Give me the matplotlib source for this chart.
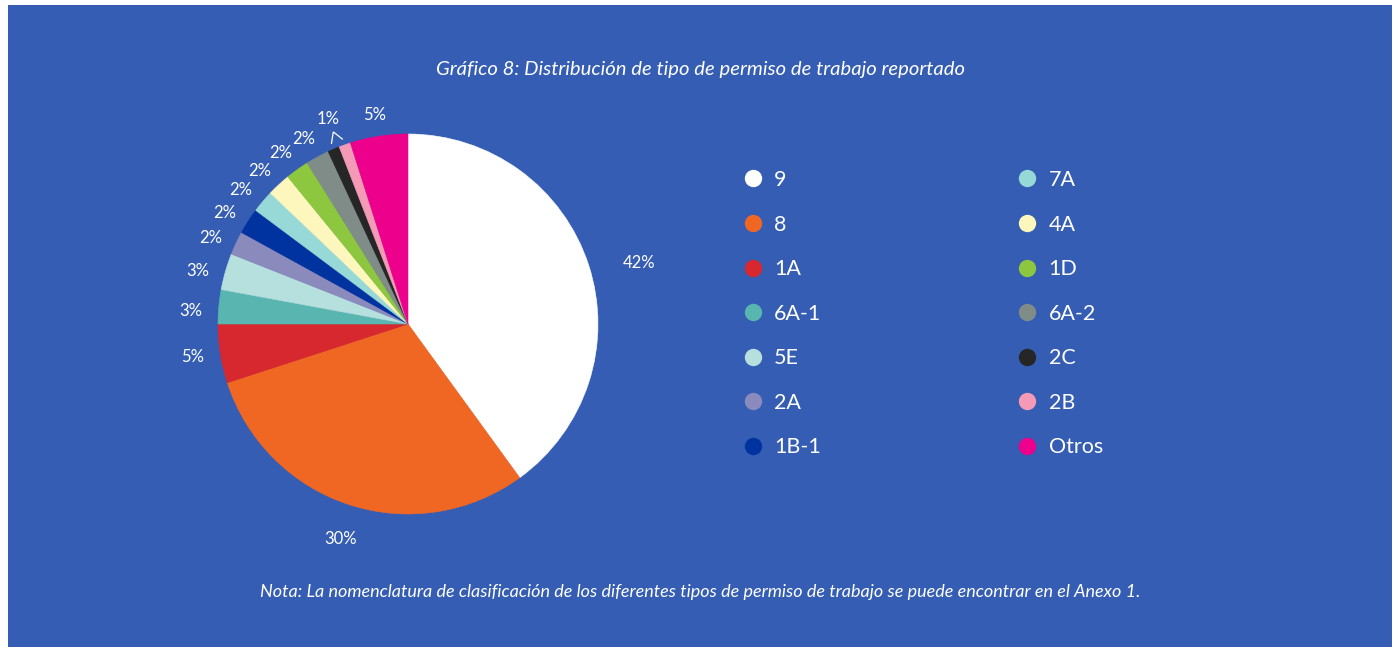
import numpy as np
import matplotlib
matplotlib.use("Agg")
import matplotlib.pyplot as plt
from matplotlib.lines import Line2D
from matplotlib.patches import Rectangle
from matplotlib.transforms import offset_copy

# data (shares of the circle, %)
categories = ["9", "8", "1A", "6A-1", "5E", "2A", "1B-1",
              "7A", "4A", "1D", "6A-2", "2C", "2B", "Otros"]
shares = [40.0, 30.0, 5.0, 2.9, 3.1, 2.0, 2.2, 1.9, 2.0, 2.0, 2.0, 1.0, 1.0, 4.9]
pct_labels = ["42%", "30%", "5%", "3%", "3%", "2%", "2%",
              "2%", "2%", "2%", "2%", "1%", "", "5%"]
colors = ["#FFFFFF", "#F06724", "#D7282F", "#58B5B0", "#B5E0DE", "#8A8ABD", "#0033A0",
          "#97D9D6", "#FDF7BE", "#8DC63F", "#7F8C88", "#262626", "#F49AB6", "#EC008C"]

title = "Gráfico 8: Distribución de tipo de permiso de trabajo reportado"
note = ("Nota: La nomenclatura de clasificación de los diferentes tipos de permiso "
        "de trabajo se puede encontrar en el Anexo 1.")

BG = "#345DB3"
FONT = "Lato"
W, H = 1397, 647

fig = plt.figure(figsize=(W / 100, H / 100), dpi=100, facecolor="white")
fig.patches.append(Rectangle((8 / W, 0), (1392 - 8) / W, (H - 5) / H,
                             transform=fig.transFigure, facecolor=BG,
                             edgecolor="none", zorder=-10))

# pie: centre (408, 324) px, radius 190 px
R = 190
half = 1.3 * R
ax = fig.add_axes([(408 - half) / W, (H - 324 - half) / H, 2 * half / W, 2 * half / H])
wedges, texts = ax.pie(shares, labels=pct_labels, colors=colors, startangle=90,
                       counterclock=False, radius=1.0, labeldistance=1.16,
                       wedgeprops=dict(linewidth=0.4),
                       textprops=dict(color="white", fontsize=12, family=FONT))
for w, c in zip(wedges, colors):
    w.set_edgecolor(c)
ax.set_xlim(-1.3, 1.3)
ax.set_ylim(-1.3, 1.3)
ax.set_aspect("equal")
ax.axis("off")


def polar(theta_deg, r):
    t = np.deg2rad(theta_deg)
    return r * np.cos(t), r * np.sin(t)


for i, (w, t) in enumerate(zip(wedges, texts)):
    mid = (w.theta1 + w.theta2) / 2
    t.set_ha("center")
    t.set_va("center")
    if categories[i] == "2C":
        # shared label for 2C and 2B, sitting over their common edge
        t.set_position(polar(w.theta1, 1.16))
        continue
    dist = 1.28 if i == 0 else 1.15
    drop = {"9": -14, "1A": 1}.get(categories[i], -7)
    t.set_position(polar(mid, dist))
    t.set_transform(offset_copy(ax.transData, fig=fig, x=0, y=drop, units="dots"))

# leader lines for the shared 1% label
i2c = categories.index("2C")
i2b = categories.index("2B")
apex = polar(wedges[i2c].theta1, 1.085)
for k in (i2c, i2b):
    m = (wedges[k].theta1 + wedges[k].theta2) / 2
    end = polar(m, 1.03)
    ax.plot([apex[0], end[0]], [apex[1], end[1]], color="white", lw=0.9,
            solid_capstyle="butt", clip_on=False)

fig.text(701 / W, 1 - 70 / H, title, ha="center", va="center", color="white",
         fontsize=14.6, style="italic", family=FONT)
fig.text(700 / W, 1 - 592 / H, note, ha="center", va="center", color="white",
         fontsize=13, style="italic", family=FONT)

handles = [Line2D([], [], linestyle="none", marker="o", markersize=12.5,
                  markerfacecolor=c, markeredgecolor="none") for c in colors]
fig.legend(handles, categories, loc="upper left",
           bbox_to_anchor=(744 / W, 1 - 170 / H), ncol=2, frameon=False,
           borderpad=0, borderaxespad=0, handlelength=0.8, handletextpad=0.6,
           labelspacing=1.14, columnspacing=9.15,
           prop=dict(family=FONT, size=15.5), labelcolor="white")

fig.savefig("out.png", dpi=100, facecolor="white")
